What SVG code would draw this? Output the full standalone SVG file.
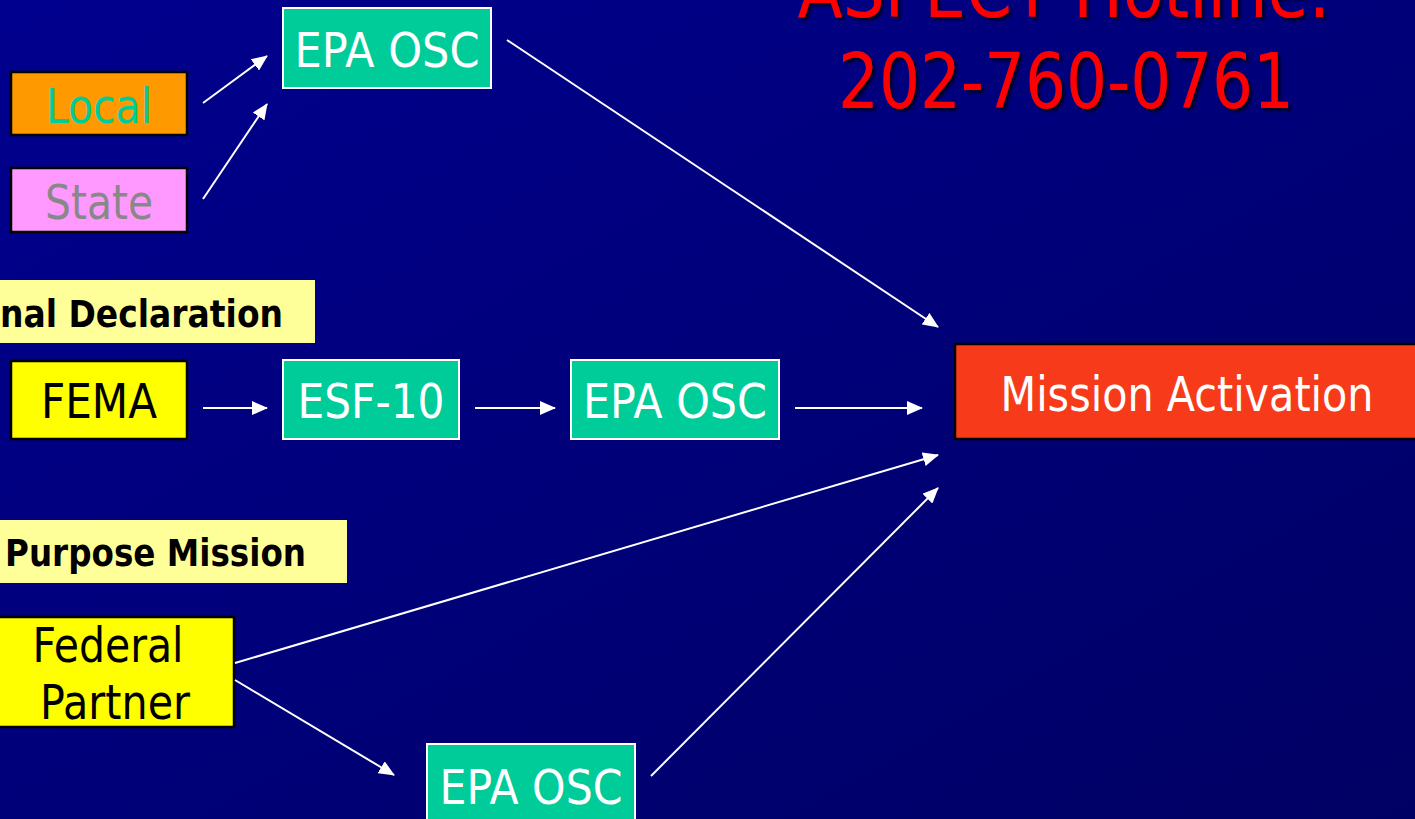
<svg xmlns="http://www.w3.org/2000/svg" width="1415" height="819" viewBox="0 0 1415 819">
<defs>
<linearGradient id="bg" x1="0" y1="0" x2="1" y2="1">
<stop offset="0" stop-color="#00008F"/>
<stop offset="1" stop-color="#000064"/>
</linearGradient>
<filter id="shadow" x="-5%" y="-20%" width="110%" height="140%">
<feDropShadow dx="3" dy="3" stdDeviation="1" flood-color="#000022" flood-opacity="0.9"/>
</filter>
<marker id="ah" markerUnits="userSpaceOnUse" markerWidth="16" markerHeight="14" refX="15" refY="7" orient="auto">
<path d="M0,0 L16,7 L0,14 Z" fill="#FFFFFF"/>
</marker>
</defs>
<style>
text{font-family:"DejaVu Sans","Liberation Sans",sans-serif}
.lbl{font-size:48px;text-anchor:middle}
.wt{fill:#FFFFFF}
.bk{fill:#000000}
.green{fill:#00CC99;stroke:#FFFFFF;stroke-width:2}
.dark{stroke:#000000;stroke-width:2.5}
.banner{fill:#FFFF99}
.ban{font-size:37px;font-weight:bold;fill:#000000}
.conn line{stroke:#FFFFFF;stroke-width:2;marker-end:url(#ah)}
.title{font-size:77px;text-anchor:middle;fill:#FF0000;filter:url(#shadow)}
</style>
<rect x="0" y="0" width="1415" height="819" fill="url(#bg)"/>

<g id="title">
<text class="title" x="1064" y="17" textLength="533" lengthAdjust="spacingAndGlyphs">ASPECT Hotline:</text>
<text class="title" x="1066" y="108" textLength="456" lengthAdjust="spacingAndGlyphs">202-760-0761</text>
</g>

<g id="epa-osc-top">
<rect class="green" x="283" y="8" width="208" height="80"/>
<text class="lbl wt" x="387" y="67" textLength="185" lengthAdjust="spacingAndGlyphs">EPA OSC</text>
</g>
<g id="local">
<rect class="dark" x="11" y="72" width="176" height="63" fill="#FF9900"/>
<text class="lbl" x="99" y="123" fill="#00CC99" textLength="106" lengthAdjust="spacingAndGlyphs">Local</text>
</g>
<g id="state">
<rect class="dark" x="11" y="168" width="176" height="64" fill="#FF99FF"/>
<text class="lbl" x="99" y="219" fill="#888888" textLength="108" lengthAdjust="spacingAndGlyphs">State</text>
</g>

<g id="declaration-banner">
<rect class="banner" x="-5" y="280" width="320" height="63"/>
<text class="ban" x="283" y="327" text-anchor="end" textLength="283" lengthAdjust="spacingAndGlyphs">nal Declaration</text>
</g>
<g id="fema">
<rect class="dark" x="11" y="361" width="176" height="78" fill="#FFFF00"/>
<text class="lbl bk" x="99" y="418" textLength="116" lengthAdjust="spacingAndGlyphs">FEMA</text>
</g>
<g id="esf-10">
<rect class="green" x="283" y="360" width="176" height="79"/>
<text class="lbl wt" x="371" y="418" textLength="147" lengthAdjust="spacingAndGlyphs">ESF-10</text>
</g>
<g id="epa-osc-mid">
<rect class="green" x="571" y="360" width="208" height="79"/>
<text class="lbl wt" x="675" y="418" textLength="184" lengthAdjust="spacingAndGlyphs">EPA OSC</text>
</g>
<g id="mission-activation">
<rect class="dark" x="955" y="344" width="470" height="95" fill="#F73B1A"/>
<text class="lbl wt" x="1187" y="411" textLength="373" lengthAdjust="spacingAndGlyphs">Mission Activation</text>
</g>

<g id="purpose-banner">
<rect class="banner" x="-5" y="520" width="352" height="63"/>
<text class="ban" x="5" y="566" textLength="301" lengthAdjust="spacingAndGlyphs">Purpose Mission</text>
</g>
<g id="federal-partner">
<rect class="dark" x="-10" y="617" width="244" height="110" fill="#FFFF00"/>
<text class="lbl bk" x="108" y="662" textLength="151" lengthAdjust="spacingAndGlyphs">Federal</text>
<text class="lbl bk" x="115" y="719" textLength="150" lengthAdjust="spacingAndGlyphs">Partner</text>
</g>
<g id="epa-osc-bottom">
<rect class="green" x="427" y="744" width="208" height="90"/>
<text class="lbl wt" x="531" y="804" textLength="183" lengthAdjust="spacingAndGlyphs">EPA OSC</text>
</g>

<g id="connectors" class="conn">
<line x1="203" y1="103" x2="267" y2="56"/>
<line x1="203" y1="199" x2="267" y2="104"/>
<line x1="507" y1="40" x2="938" y2="327"/>
<line x1="203" y1="408" x2="267" y2="408"/>
<line x1="475" y1="408" x2="555" y2="408"/>
<line x1="795" y1="408" x2="922" y2="408"/>
<line x1="235" y1="663" x2="938" y2="455"/>
<line x1="235" y1="680" x2="394" y2="775"/>
<line x1="651" y1="776" x2="938" y2="488"/>
</g>
</svg>
